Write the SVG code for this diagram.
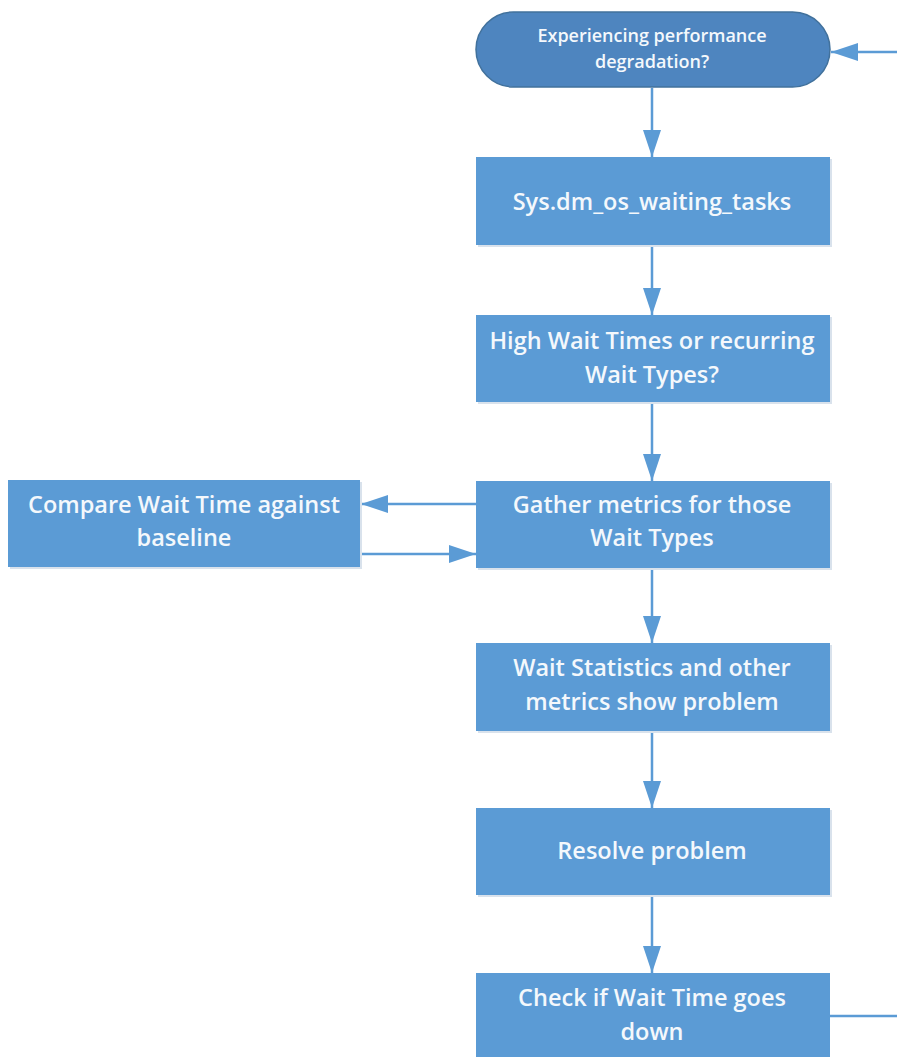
<svg xmlns="http://www.w3.org/2000/svg" width="897" height="1057" viewBox="0 0 897 1057">
<defs>
<style>
.box{fill:#5b9bd5;}
.shadow{fill:#d9e2ec;}
.term{fill:#4e85bf;stroke:#41719c;stroke-width:1.5;}
.t{font-family:"Open Sans","DejaVu Sans",sans-serif;font-size:23.5px;font-weight:600;fill:#f4f8fc;text-anchor:middle;}
.ts{font-family:"Open Sans","DejaVu Sans",sans-serif;font-size:18px;font-weight:600;fill:#f4f8fc;text-anchor:middle;}
.c{stroke:#5b9bd5;stroke-width:2.5;fill:none;}
</style>
<marker id="ah" markerWidth="27" markerHeight="18" refX="27" refY="9" orient="auto" markerUnits="userSpaceOnUse">
<path d="M0,0 L27,9 L0,18 Z" fill="#5b9bd5"/>
</marker>
</defs>
<rect width="897" height="1057" fill="#ffffff"/>
<g id="connectors">
<line class="c" x1="652" y1="88" x2="652" y2="157" marker-end="url(#ah)"/>
<line class="c" x1="652" y1="245" x2="652" y2="315" marker-end="url(#ah)"/>
<line class="c" x1="652" y1="403" x2="652" y2="481" marker-end="url(#ah)"/>
<line class="c" x1="476" y1="504" x2="361" y2="504" marker-end="url(#ah)"/>
<line class="c" x1="360" y1="554" x2="476" y2="554" marker-end="url(#ah)"/>
<line class="c" x1="652" y1="568" x2="652" y2="643" marker-end="url(#ah)"/>
<line class="c" x1="652" y1="732" x2="652" y2="808" marker-end="url(#ah)"/>
<line class="c" x1="652" y1="895" x2="652" y2="973" marker-end="url(#ah)"/>
<line class="c" x1="830" y1="1016" x2="897" y2="1016"/>
<line class="c" x1="897" y1="52" x2="831" y2="52" marker-end="url(#ah)"/>
</g>
<g id="start">
<rect class="term" x="476" y="12" width="354" height="75" rx="37.5"/>
<text class="ts" x="652" y="42">Experiencing performance</text>
<text class="ts" x="652" y="68">degradation?</text>
</g>
<g id="waiting-tasks">
<rect class="shadow" x="478" y="159" width="354" height="88"/>
<rect class="box" x="476" y="157" width="354" height="88"/>
<text class="t" x="652" y="210">Sys.dm_os_waiting_tasks</text>
</g>
<g id="high-wait">
<rect class="shadow" x="478" y="317" width="354" height="87"/>
<rect class="box" x="476" y="315" width="354" height="87"/>
<text class="t" x="652" y="349">High Wait Times or recurring</text>
<text class="t" x="652" y="383">Wait Types?</text>
</g>
<g id="gather">
<rect class="shadow" x="478" y="483" width="354" height="87"/>
<rect class="box" x="476" y="481" width="354" height="87"/>
<text class="t" x="652" y="513">Gather metrics for those</text>
<text class="t" x="652" y="546">Wait Types</text>
</g>
<g id="compare">
<rect class="shadow" x="10" y="482" width="352" height="87"/>
<rect class="box" x="8" y="480" width="352" height="87"/>
<text class="t" x="184" y="513">Compare Wait Time against</text>
<text class="t" x="184" y="546">baseline</text>
</g>
<g id="wait-stats">
<rect class="shadow" x="478" y="645" width="354" height="88"/>
<rect class="box" x="476" y="643" width="354" height="88"/>
<text class="t" x="652" y="676">Wait Statistics and other</text>
<text class="t" x="652" y="710">metrics show problem</text>
</g>
<g id="resolve">
<rect class="shadow" x="478" y="810" width="354" height="87"/>
<rect class="box" x="476" y="808" width="354" height="87"/>
<text class="t" x="652" y="859">Resolve problem</text>
</g>
<g id="check">
<rect class="box" x="476" y="973" width="354" height="90"/>
<text class="t" x="652" y="1006">Check if Wait Time goes</text>
<text class="t" x="652" y="1040">down</text>
</g>
</svg>
